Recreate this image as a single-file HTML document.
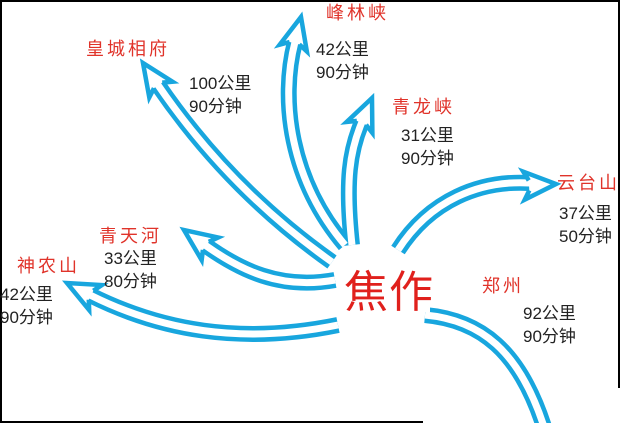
<!DOCTYPE html>
<html><head><meta charset="utf-8"><style>
html,body{margin:0;padding:0;background:#fff;}
body{width:620px;height:423px;position:relative;overflow:hidden;font-family:"Liberation Sans","Noto Sans CJK SC",sans-serif;}
.t{position:absolute;white-space:nowrap;}
.r{color:#e0332a;font-size:18px;letter-spacing:3px;}
.k{color:#222;font-size:17px;line-height:23px;}
</style></head><body>
<svg width="620" height="423" style="position:absolute;left:0;top:0">
<g fill="none" stroke-linecap="butt">
<g stroke="#18a6de" stroke-width="16">
<path d="M332,262 Q230,190 158,85"/>
<path d="M345,245 C290,180 280,100 295,42"/>
<path d="M352,245 C345,180 350,150 362,122"/>
<path d="M398,250 C430,200 480,180 530,183"/>
<path d="M425,315 C480,320 520,350 545,430"/>
<path d="M335,280 C280,290 240,270 205,245"/>
<path d="M338,325 C240,345 160,330 90,295"/>
</g>
<g stroke="#fff" stroke-width="7">
<path d="M332,262 Q230,190 158,85"/>
<path d="M345,245 C290,180 280,100 295,42"/>
<path d="M352,245 C345,180 350,150 362,122"/>
<path d="M398,250 C430,200 480,180 530,183"/>
<path d="M425,315 C480,320 520,350 545,430"/>
<path d="M335,280 C280,290 240,270 205,245"/>
<path d="M338,325 C240,345 160,330 90,295"/>
</g>
</g>
<g fill="#fff" stroke="#18a6de" stroke-width="4.5" stroke-linejoin="miter">
<path transform="translate(143,63) rotate(-34)" d="M-5,27 L-14,32 L0,0 L14,32 L5,27"/>
<path transform="translate(301,17) rotate(14)" d="M-5,27 L-14,32 L0,0 L14,32 L5,27"/>
<path transform="translate(372,98) rotate(23)" d="M-5,27 L-14,32 L0,0 L14,32 L5,27"/>
<path transform="translate(556,184) rotate(87)" d="M-5,27 L-14,32 L0,0 L14,32 L5,27"/>
<path transform="translate(184,230) rotate(-54)" d="M-5,27 L-14,32 L0,0 L14,32 L5,27"/>
<path transform="translate(67,283) rotate(-63)" d="M-5,27 L-14,32 L0,0 L14,32 L5,27"/>
</g>
<rect x="340" y="256" width="90" height="56" fill="#fff"/>
<g stroke="#000" stroke-width="2">
<line x1="0" y1="1" x2="620" y2="1"/>
<line x1="1" y1="0" x2="1" y2="423"/>
<line x1="619" y1="0" x2="619" y2="388"/>
<line x1="0" y1="422" x2="423" y2="422"/>
</g>
</svg>
<div class="t" style="left:344px;top:256px;color:#e0201c;font-size:44px;letter-spacing:1px;">焦作</div>
<div class="t r" style="left:86px;top:35px;">皇城相府</div>
<div class="t r" style="left:326px;top:-1px;">峰林峡</div>
<div class="t r" style="left:392px;top:93px;">青龙峡</div>
<div class="t r" style="left:557px;top:169px;">云台山</div>
<div class="t r" style="left:482px;top:272px;">郑州</div>
<div class="t r" style="left:99px;top:222px;">青天河</div>
<div class="t r" style="left:17px;top:252px;">神农山</div>
<div class="t k" style="left:189px;top:72px;">100公里<br>90分钟</div>
<div class="t k" style="left:316px;top:38px;">42公里<br>90分钟</div>
<div class="t k" style="left:401px;top:124px;">31公里<br>90分钟</div>
<div class="t k" style="left:559px;top:202px;">37公里<br>50分钟</div>
<div class="t k" style="left:523px;top:302px;">92公里<br>90分钟</div>
<div class="t k" style="left:104px;top:247px;">33公里<br>80分钟</div>
<div class="t k" style="left:0px;top:283px;">42公里<br>90分钟</div>
</body></html>
